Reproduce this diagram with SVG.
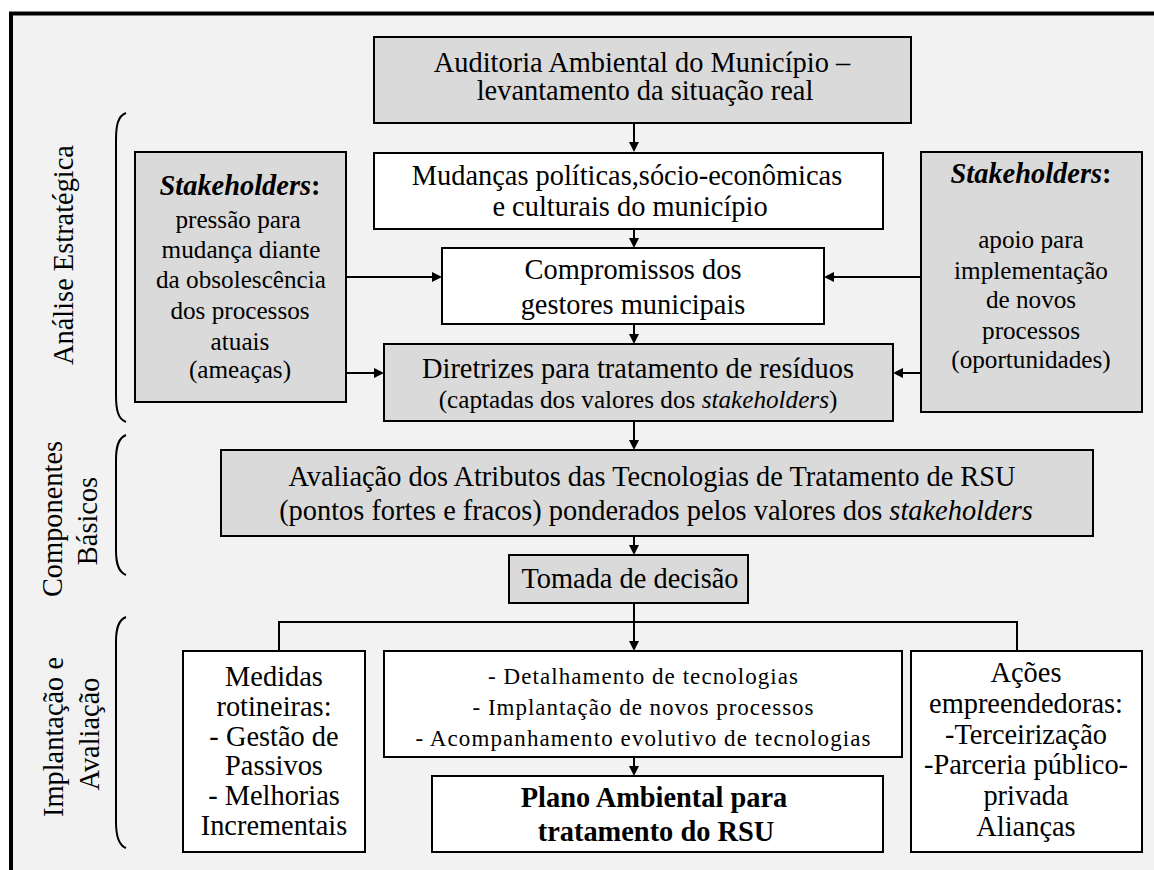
<svg xmlns="http://www.w3.org/2000/svg" width="1154" height="870" viewBox="0 0 1154 870">
  <defs>
    <marker id="arr" markerWidth="10" markerHeight="10" refX="5" refY="5" orient="auto" markerUnits="userSpaceOnUse">
      <path d="M0,0 L10,5 L0,10 z" fill="#000"/>
    </marker>
    <style>
      text { fill: #000; }
      .t { font-size: 28.4px; text-anchor: middle; }
      .s { font-size: 25.2px; text-anchor: middle; }
      .m { font-size: 23px; text-anchor: middle; }
      .lab { font-size: 28.4px; text-anchor: middle; }
      .grey { fill: #dadada; stroke: #000; stroke-width: 2; }
      .white { fill: #ffffff; stroke: #000; stroke-width: 2; }
      .brace { fill: none; stroke: #000; stroke-width: 2; }
      .conn { fill: none; stroke: #000; stroke-width: 2; }
      .arrow { fill: none; stroke: #000; stroke-width: 2; marker-end: url(#arr); }
    </style>
  </defs>

  <rect x="0" y="0" width="1154" height="870" fill="#ffffff"/>
  <!-- outer frame -->
  <rect x="11" y="13.5" width="1170" height="890" fill="#f2f2f2" stroke="#000" stroke-width="4"/>

  <g font-family="'Liberation Serif', 'Times New Roman', serif">
  <!-- phase labels and braces -->
  <g id="phase-analise">
    <text class="lab" transform="translate(73,255) rotate(-90)">Análise Estratégica</text>
    <path class="brace" d="M126,113 C118,116 116,125 116,140 V395 C116,410 118,419 126,422"/>
  </g>
  <g id="phase-componentes">
    <text class="lab" transform="translate(62,519) rotate(-90)">Componentes</text>
    <text class="lab" transform="translate(97,521) rotate(-90)">Básicos</text>
    <path class="brace" d="M126,435 C118,438 116,447 116,460 V550 C116,563 118,572 126,575"/>
  </g>
  <g id="phase-implantacao">
    <text class="lab" transform="translate(63,737) rotate(-90)">Implantação e</text>
    <text class="lab" transform="translate(99,734) rotate(-90)">Avaliação</text>
    <path class="brace" d="M126,617 C118,620 116,629 116,642 V822 C116,835 118,845 126,848"/>
  </g>

  <!-- connectors -->
  <g id="connectors">
    <line class="arrow" x1="634" y1="123" x2="634" y2="147"/>
    <line class="arrow" x1="634" y1="229" x2="634" y2="243"/>
    <line class="arrow" x1="634" y1="324" x2="634" y2="339"/>
    <line class="arrow" x1="634" y1="421" x2="634" y2="445"/>
    <line class="arrow" x1="634" y1="536" x2="634" y2="550"/>
    <line class="arrow" x1="634" y1="603" x2="634" y2="646"/>
    <line class="arrow" x1="634" y1="757" x2="634" y2="771"/>
    <line class="arrow" x1="346" y1="277" x2="437" y2="277"/>
    <line class="arrow" x1="346" y1="373" x2="379" y2="373"/>
    <line class="arrow" x1="921" y1="277" x2="829" y2="277"/>
    <line class="arrow" x1="921" y1="373" x2="898" y2="373"/>
    <polyline class="conn" points="279,651 279,622 1017,622 1017,651"/>
  </g>

  <g id="auditoria">
    <rect class="grey" x="374" y="37" width="537" height="86"/>
    <text class="t" x="642" y="72">Auditoria Ambiental do Município –</text>
    <text class="t" x="645" y="100">levantamento da situação real</text>
  </g>

  <g id="mudancas">
    <rect class="white" x="374" y="153" width="509" height="76"/>
    <text class="t" x="627" y="185">Mudanças políticas,sócio-econômicas</text>
    <text class="t" x="630" y="216">e culturais do município</text>
  </g>

  <g id="compromissos">
    <rect class="white" x="442" y="248" width="382" height="76"/>
    <text class="t" x="633" y="279">Compromissos dos</text>
    <text class="t" x="633" y="314">gestores municipais</text>
  </g>

  <g id="stakeholders-pressao">
    <rect class="grey" x="135" y="152" width="211" height="250"/>
    <text class="t" x="240" y="195"><tspan font-weight="bold" font-style="italic">Stakeholders</tspan><tspan font-weight="bold">:</tspan></text>
    <text class="s" x="238" y="228">pressão para</text>
    <text class="s" x="241" y="258">mudança diante</text>
    <text class="s" x="241" y="288">da obsolescência</text>
    <text class="s" x="240" y="319">dos processos</text>
    <text class="s" x="240" y="350">atuais</text>
    <text class="s" x="240" y="378">(ameaças)</text>
  </g>

  <g id="stakeholders-apoio">
    <rect class="grey" x="921" y="152" width="221" height="260"/>
    <text class="t" x="1031" y="183"><tspan font-weight="bold" font-style="italic">Stakeholders</tspan><tspan font-weight="bold">:</tspan></text>
    <text class="s" x="1031" y="248">apoio para</text>
    <text class="s" x="1031" y="279">implementação</text>
    <text class="s" x="1031" y="308">de novos</text>
    <text class="s" x="1031" y="339">processos</text>
    <text class="s" x="1031" y="368">(oportunidades)</text>
  </g>

  <g id="diretrizes">
    <rect class="grey" x="384" y="344" width="509" height="77"/>
    <text class="t" x="638" y="378">Diretrizes para tratamento de resíduos</text>
    <text class="s" x="638" y="408">(captadas dos valores dos <tspan font-style="italic">stakeholders</tspan>)</text>
  </g>

  <g id="avaliacao">
    <rect class="grey" x="221" y="450" width="872" height="86"/>
    <text class="t" x="652" y="486">Avaliação dos Atributos das Tecnologias de Tratamento de RSU</text>
    <text class="t" x="656" y="520">(pontos fortes e fracos) ponderados pelos valores dos <tspan font-style="italic">stakeholders</tspan></text>
  </g>

  <g id="tomada">
    <rect class="grey" x="509" y="555" width="239" height="48"/>
    <text class="t" x="630" y="588">Tomada de decisão</text>
  </g>

  <g id="medidas">
    <rect class="white" x="183" y="651" width="182" height="201"/>
    <text class="t" x="274" y="686">Medidas</text>
    <text class="t" x="274" y="716">rotineiras:</text>
    <text class="t" x="274" y="746">- Gestão de</text>
    <text class="t" x="274" y="775">Passivos</text>
    <text class="t" x="274" y="805">- Melhorias</text>
    <text class="t" x="274" y="835">Incrementais</text>
  </g>

  <g id="detalhamento">
    <rect class="white" x="384" y="651" width="518" height="106"/>
    <text class="m" x="643" y="684" textLength="310" lengthAdjust="spacing">- Detalhamento de tecnologias</text>
    <text class="m" x="643" y="715" textLength="341" lengthAdjust="spacing">- Implantação de novos processos</text>
    <text class="m" x="643" y="746" textLength="455" lengthAdjust="spacing">- Acompanhamento evolutivo de tecnologias</text>
  </g>

  <g id="plano">
    <rect class="white" x="432" y="776" width="451" height="76"/>
    <text class="t" x="654" y="807" font-weight="bold">Plano Ambiental para</text>
    <text class="t" x="656" y="841" font-weight="bold">tratamento do RSU</text>
  </g>

  <g id="acoes">
    <rect class="white" x="911" y="651" width="231" height="201"/>
    <text class="t" x="1026" y="682">Ações</text>
    <text class="t" x="1026" y="713">empreendedoras:</text>
    <text class="t" x="1026" y="744">-Terceirização</text>
    <text class="t" x="1026" y="774">-Parceria público-</text>
    <text class="t" x="1026" y="805">privada</text>
    <text class="t" x="1026" y="836">Alianças</text>
  </g>
  </g>
</svg>
